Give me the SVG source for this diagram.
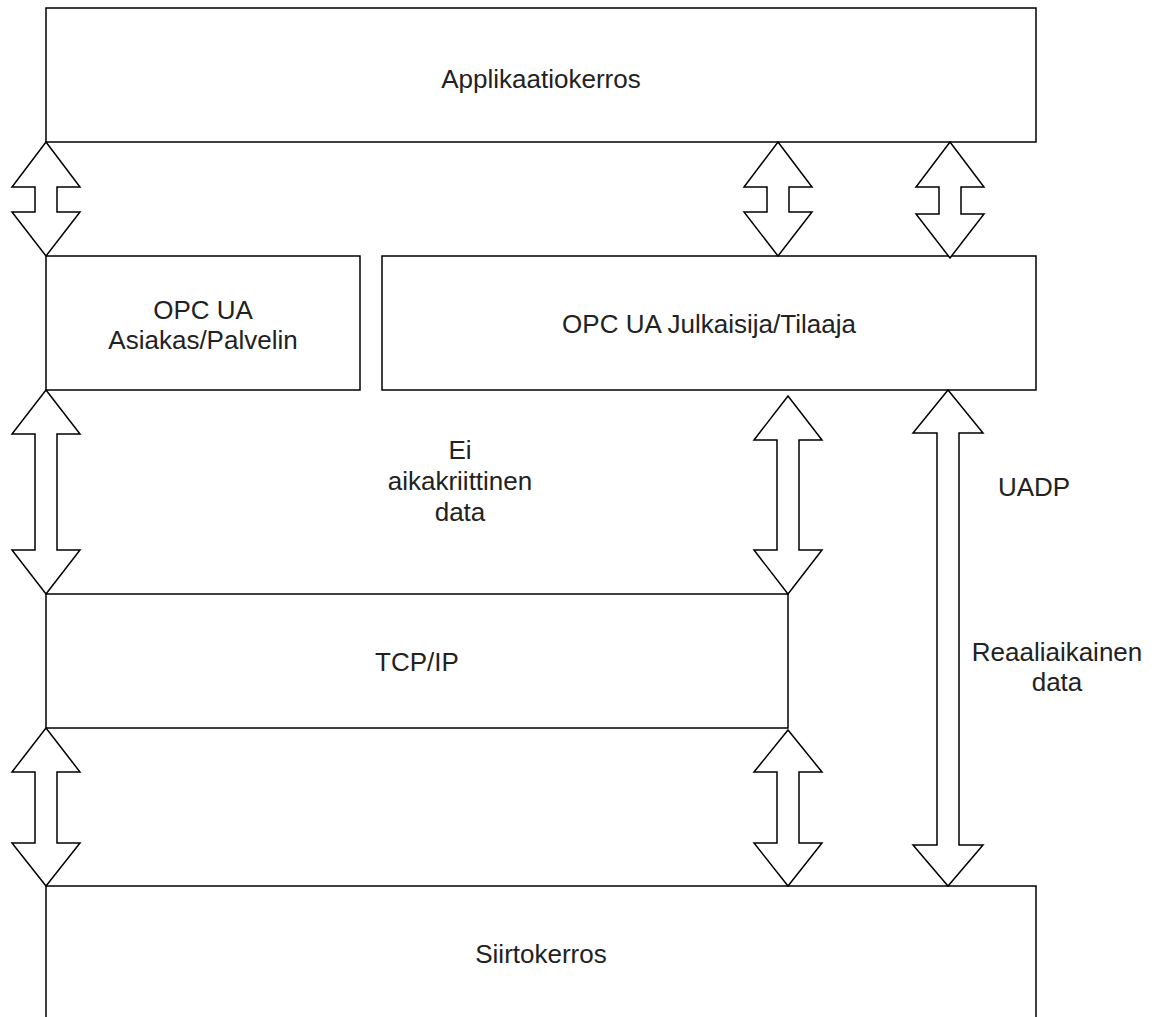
<svg xmlns="http://www.w3.org/2000/svg" width="1157" height="1017" viewBox="0 0 1157 1017">
<style>
.box{fill:#fff;stroke:#000;stroke-width:1.5}
.arr{fill:#fff;stroke:#000;stroke-width:1.5;stroke-linejoin:miter}
text{font-family:"Liberation Sans",Arial,sans-serif;font-size:26px;fill:#222;text-anchor:middle}
</style>
<rect width="1157" height="1017" fill="#fff"/>
<g id="applikaatiokerros"><rect class="box" x="46" y="8" width="990" height="134"/><text x="541" y="88">Applikaatiokerros</text></g>
<g id="asiakas-palvelin"><rect class="box" x="46" y="256" width="314" height="134"/><text x="203" y="319">OPC UA</text><text x="203" y="349">Asiakas/Palvelin</text></g>
<g id="julkaisija-tilaaja"><rect class="box" x="382" y="256" width="654" height="134"/><text x="709" y="333">OPC UA Julkaisija/Tilaaja</text></g>
<g id="tcpip"><rect class="box" x="46" y="594" width="742" height="134"/><text x="417" y="671">TCP/IP</text></g>
<g id="siirtokerros"><rect class="box" x="46" y="886" width="990" height="140"/><text x="541" y="963">Siirtokerros</text></g>
<g id="labels"><text x="460" y="459">Ei</text><text x="460" y="490">aikakriittinen</text><text x="460" y="521">data</text><text x="1034" y="496">UADP</text><text x="1057" y="661">Reaaliaikainen</text><text x="1057" y="691">data</text></g>
<g id="connectors">
<path class="arr" d="M46,142 L80,187 L57,187 L57,212 L80,212 L46,256 L12,212 L35,212 L35,187 L12,187 Z"/>
<path class="arr" d="M778,142 L812,187 L789,187 L789,212 L812,212 L778,256 L744,212 L767,212 L767,187 L744,187 Z"/>
<path class="arr" d="M950,142 L984,187 L961,187 L961,214 L984,214 L950,258 L916,214 L939,214 L939,187 L916,187 Z"/>
<path class="arr" d="M46,390 L80,434 L57,434 L57,550 L80,550 L46,594 L12,550 L35,550 L35,434 L12,434 Z"/>
<path class="arr" d="M788,396 L822,440 L799,440 L799,550 L822,550 L788,594 L754,550 L777,550 L777,440 L754,440 Z"/>
<path class="arr" d="M948,390 L983,433 L959,433 L959,845 L983,845 L948,886 L913,845 L937,845 L937,433 L913,433 Z"/>
<path class="arr" d="M46,728 L80,772 L57,772 L57,843 L80,843 L46,886 L12,843 L35,843 L35,772 L12,772 Z"/>
<path class="arr" d="M788,730 L822,772 L799,772 L799,843 L822,843 L788,886 L754,843 L777,843 L777,772 L754,772 Z"/>
</g>
</svg>
